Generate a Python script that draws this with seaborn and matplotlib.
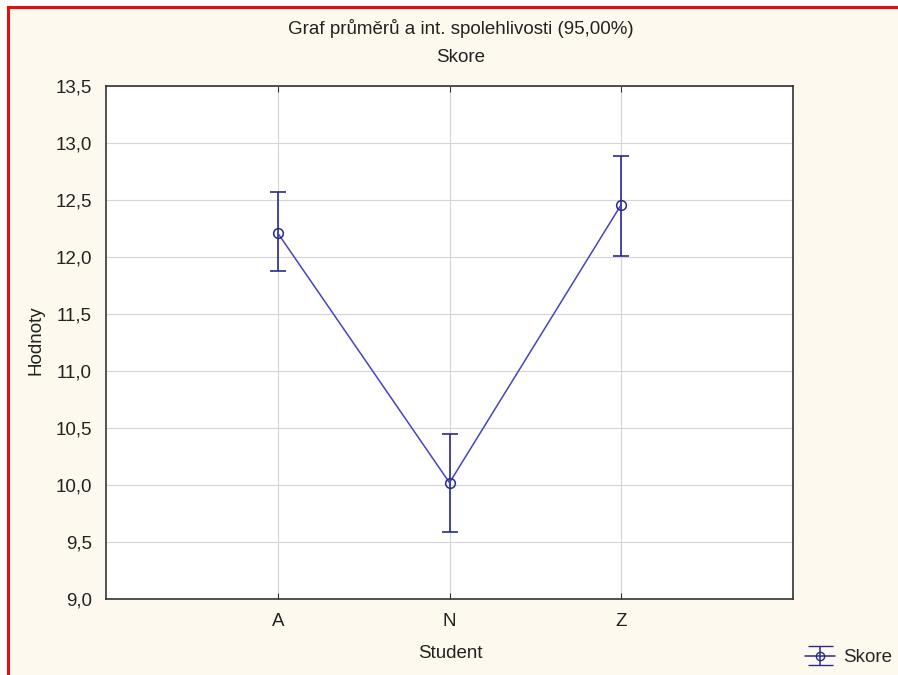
import numpy as np
import seaborn as sns
import matplotlib.patches as patches
from matplotlib import pyplot as plt
from matplotlib.ticker import FuncFormatter, MultipleLocator

# data
students = ["A", "N", "Z"]
means = np.array([12.21, 10.02, 12.46])
ci_low = np.array([11.88, 9.59, 12.01])
ci_high = np.array([12.57, 10.45, 12.89])

TITLE = "Graf průměrů a int. spolehlivosti (95,00%)"
SUBTITLE = "Skore"
X_LABEL = "Student"
Y_LABEL = "Hodnoty"
SERIES = "Skore"

LINE_COLOR = "#4444c4"
BAR_COLOR = "#2a2a90"
BG = "#fdf9ee"
FS = 13.5

sns.set_style("whitegrid")
plt.rcParams['font.family'] = ['Liberation Sans', 'DejaVu Sans']
plt.rcParams['font.size'] = FS

fig = plt.figure(figsize=(8.98, 6.75), dpi=100, facecolor="white")
# cream panel with red frame on top and left
fig.patches.append(patches.Rectangle((8 / 898, -0.02), 1.1, 1 - 7 / 675 + 0.02,
                                     transform=fig.transFigure, facecolor=BG,
                                     edgecolor="#e01010", linewidth=2.2, zorder=-10))

ax = fig.add_axes([106 / 898, 76 / 675, 687 / 898, 513 / 675])
ax.set_facecolor("white")

sns.lineplot(x=students, y=means, ax=ax, color=LINE_COLOR, linewidth=1.1,
             marker="o", markersize=7, markerfacecolor="none",
             markeredgecolor=BAR_COLOR, markeredgewidth=1.1, zorder=3)
ax.errorbar(students, means, yerr=[means - ci_low, ci_high - means], fmt="none",
            ecolor=BAR_COLOR, elinewidth=1.2, capsize=6, capthick=1.2, zorder=2)

# legend proxy (off-axis point)
proxy = ax.errorbar([0], [-100], yerr=[1], fmt="o-", color=BAR_COLOR, mfc="none",
                    markersize=6, linewidth=1.1, capsize=9)

ax.set_xlim(-1, 3)
ax.set_ylim(9.0, 13.5)
ax.yaxis.set_major_locator(MultipleLocator(0.5))
ax.yaxis.set_major_formatter(FuncFormatter(lambda v, p: f"{v:.1f}".replace(".", ",")))
ax.grid(True, color="#d4d4d4", linewidth=0.8)
ax.tick_params(direction="in", length=4, width=0.8, color="#333333",
               top=True, bottom=True, left=False, right=False,
               labelsize=FS, labelcolor="#222222", pad=10)
for s in ax.spines.values():
    s.set_visible(True)
    s.set_color("#333333")
    s.set_linewidth(1.2)
ax.set_xlabel("")
ax.set_ylabel("")

fig.text(461 / 898, 1 - 29 / 675, TITLE, ha="center", va="center", fontsize=FS, color="#222222")
fig.text(461 / 898, 1 - 57 / 675, SUBTITLE, ha="center", va="center", fontsize=FS, color="#222222")
fig.text(450 / 898, 1 - 653 / 675, X_LABEL, ha="center", va="center", fontsize=FS, color="#222222")
fig.text(36 / 898, 1 - 340 / 675, Y_LABEL, ha="center", va="center", rotation=90,
         fontsize=FS, color="#222222")

fig.legend(handles=[proxy], labels=[SERIES], loc="lower right",
           bbox_to_anchor=(1.012, -0.012), frameon=False, fontsize=FS,
           handlelength=1.6, handletextpad=0.4)

plt.savefig("out.png", dpi=100, facecolor=fig.get_facecolor())
